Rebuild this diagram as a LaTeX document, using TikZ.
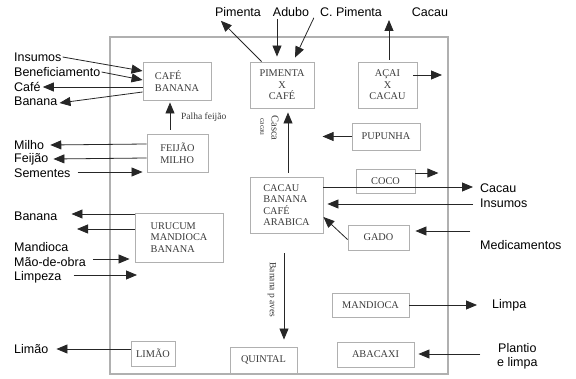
\documentclass[tikz,border=0pt]{standalone}
\usepackage{fontspec}
\setmainfont{Liberation Serif}
\newfontfamily\lab{Liberation Sans}
\usetikzlibrary{arrows.meta,calc}
\definecolor{boxgray}{HTML}{B0B0B0}
\definecolor{txtgray}{HTML}{3A3A3A}
\tikzset{
  box/.style={draw=boxgray, line width=0.9pt, inner sep=0pt, font=\fontsize{10.3}{11.5}\selectfont, text=txtgray},
  lbl/.style={font=\lab\fontsize{12.5}{13}\selectfont, inner sep=1pt, anchor=west, text=black},
  small/.style={font=\fontsize{9.5}{11}\selectfont, text=txtgray, inner sep=0pt},
  arr/.style={draw=black!85, line width=0.8pt, -{Triangle[length=11pt,width=9pt]}},
}
\begin{document}
\begin{tikzpicture}[x=1pt,y=-1pt]
\useasboundingbox (0,0) rectangle (576,379);
% outer frame
\draw[draw=boxgray, line width=1.3pt] (110,37) rectangle (448,374);
% boxes
\node[box, minimum width=68pt, minimum height=38pt, align=left] (cafe) at (177,81) {CAFÉ\\BANANA};
\node[box, minimum width=61pt, minimum height=38pt, align=left] (feijao) at (177.5,153) {FEIJÃO\\MILHO};
\node[box, minimum width=64pt, minimum height=46pt, align=center] (pimenta) at (282,85) {PIMENTA\\X\\CAFÉ};
\node[box, minimum width=59pt, minimum height=46pt, align=center] (acai) at (387.5,85) {AÇAI\\X\\CACAU};
\node[box, minimum width=68pt, minimum height=27pt] (pupunha) at (386,136.5) {PUPUNHA};
\node[box, minimum width=59pt, minimum height=24pt] (coco) at (385.5,181) {COCO};
\node[box, minimum width=73pt, minimum height=56pt, align=left] (cacau) at (286.5,205) {CACAU\\BANANA\\CAFÉ\\ARABICA};
\node[box, minimum width=61pt, minimum height=25pt] (gado) at (378.5,237.5) {GADO};
\node[box, minimum width=88pt, minimum height=49pt, align=left] (urucum) at (179,237.5) {URUCUM\\MANDIOCA\\BANANA};
\node[box, minimum width=77pt, minimum height=24pt] (mandioca) at (370.5,305) {MANDIOCA};
\node[box, minimum width=77pt, minimum height=25pt] (abacaxi) at (375.5,354.5) {ABACAXI};
\node[box, minimum width=44pt, minimum height=25pt] (limao) at (153,353.5) {LIMÃO};
\node[box, minimum width=67pt, minimum height=26pt] (quintal) at (263.5,360) {QUINTAL};
% outside labels (left)
\node[lbl] (lins) at (13,57) {Insumos};
\node[lbl] (lben) at (13,72) {Beneficiamento};
\node[lbl] (lcafe) at (13,87) {Café};
\node[lbl] (lban) at (13,101) {Banana};
\node[lbl] (lmilho) at (13,145) {Milho};
\node[lbl] (lfeij) at (13,159) {Feijão};
\node[lbl] (lsem) at (13,173) {Sementes};
\node[lbl] (lban2) at (13,216) {Banana};
\node[lbl] (lmand) at (13,247) {Mandioca};
\node[lbl] (lmao) at (13,262) {Mão-de-obra};
\node[lbl] (llimp) at (13,277) {Limpeza};
\node[lbl] (llim) at (13,349) {Limão};
% top labels
\node[lbl, anchor=center] (lpim) at (238,12) {Pimenta};
\node[lbl, anchor=center] (ladubo) at (291,12) {Adubo};
\node[lbl, anchor=center] (lcpim) at (351,12) {C. Pimenta};
\node[lbl, anchor=center] (lcactop) at (430,12) {Cacau};
% right labels
\node[lbl] (lcac2) at (479,188) {Cacau};
\node[lbl] (linsr) at (479,203) {Insumos};
\node[lbl] (lmed) at (479,245) {Medicamentos};
\node[lbl] (llimpa) at (491,305) {Limpa};
\node[lbl, align=center, font=\lab\fontsize{12.5}{14}\selectfont] (lplant) at (496,356) {Plantio\\e limpa};
% small inner labels
\node[small, anchor=west] (palha) at (181,117) {Palha feijão};
\node[small, rotate=-90, font=\fontsize{10.5}{11}\selectfont] (casca) at (275,128) {Casca};
\node[small, rotate=-90, font=\fontsize{7.5}{8}\selectfont] (casca2) at (262,127) {cacau};
\node[small, rotate=-90] (aves) at (272,290) {Banana p aves};
% coordinates for free ends
\coordinate (acaiup) at (389,20);
\coordinate (acairt) at (442,75);
\coordinate (ban2b) at (77,229);
\coordinate (limpend) at (137,275);
% arrows left side
\draw[arr] (lins.east) -- (cafe.west |- 0,71);
\draw[arr] (lben.east) -- (cafe.west |- 0,80);
\draw[arr] (cafe.west |- 0,87) -- ($(lcafe.east)+(1,0)$);
\draw[arr] (cafe.west |- 0,92) -- ($(lban.east)+(1,2)$);
\draw[arr] ($(feijao.north)+(-7.5,-4)$) -- ($(cafe.south)+(-7,2)$);
\draw[arr] (feijao.west |- 0,144) -- ($(lmilho.east)+(5,0)$);
\draw[arr] (feijao.west |- 0,158) -- ($(lfeij.east)+(4,0)$);
\draw[arr] ($(lsem.east)+(6,-1)$) -- ($(feijao.west |- 0,172)+(-4,0)$);
% top arrows
\draw[arr] ($(pimenta.north west)+(12,0)$) -- ($(lpim.south west)+(7,3)$);
\draw[arr] ($(ladubo.south)+(-14,1)$) -- ($(pimenta.north)+(-5,-5)$);
\draw[arr] ($(lcpim.south west)+(-5,0)$) -- ($(pimenta.north)+(13,-4)$);
\draw[arr] ($(acai.north)+(1.5,-2)$) -- (acaiup);
\draw[arr] ($(acai.east |- 0,75)+(-4,0)$) -- (acairt);
\draw[arr] (pupunha.west) -- ($(pupunha.west)+(-29,0)$);
\draw[arr] (coco.east |- 0,173) -- ($(coco.east |- 0,173)+(23,0)$);
% center arrows
\draw[arr] ($(cacau.north)+(1.5,-4)$) -- ($(pimenta.south)+(6,4)$);
\draw[arr] ($(cacau.south)+(-2.5,20)$) -- ($(quintal.north)+(20.5,-7)$);
% right arrows
\draw[arr] (cacau.east |- 0,187) -- ($(lcac2.west)+(-6,-1)$);
\draw[arr] ($(linsr.west)+(-6,1)$) -- ($(cacau.east |- 0,204)+(4,0)$);
\draw[arr] ($(gado.west)+(0,2)$) -- (cacau.east |- 0,217);
\draw[arr] ($(gado.east |- 0,231)+(61,0)$) -- ($(gado.east |- 0,231)+(6,0)$);
\draw[arr] (mandioca.east) -- ($(llimpa.west)+(-14,0)$);
\draw[arr] ($(abacaxi.east |- 0,354)+(66,0)$) -- ($(abacaxi.east |- 0,354)+(4,0)$);
% lower left arrows
\draw[arr] (urucum.west |- 0,214) -- ($(lban2.east)+(13,-2)$);
\draw[arr] (urucum.west |- 0,229) -- (ban2b);
\draw[arr] ($(lmao.east)+(6,-3)$) -- ($(urucum.west |- 0,259)+(-5,0)$);
\draw[arr] ($(llimp.east)+(11,-2)$) -- (limpend);
\draw[arr] (limao.west |- 0,349) -- ($(llim.east)+(7,0)$);
\end{tikzpicture}
\end{document}
